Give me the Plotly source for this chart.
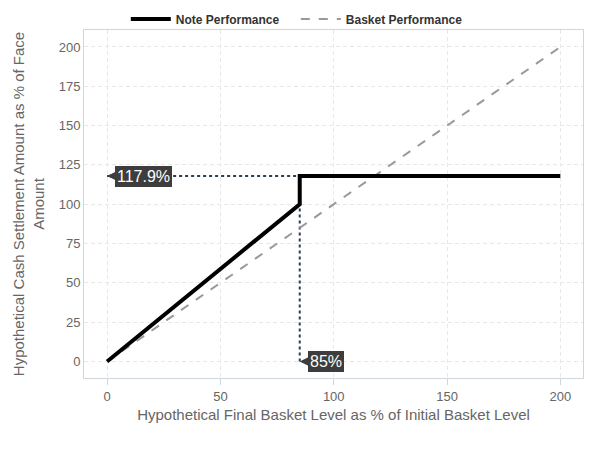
import plotly.graph_objects as go

note_x = [0, 85, 85, 200]
note_y = [0, 100, 117.9, 117.9]
basket_x = [0, 200]
basket_y = [0, 200]
cap_level = 117.9
barrier = 85
x_ticks = [0, 50, 100, 150, 200]
y_ticks = [0, 25, 50, 75, 100, 125, 150, 175, 200]

fig = go.Figure()
fig.add_trace(go.Scatter(x=[0, barrier], y=[cap_level, cap_level], mode="lines",
                         line=dict(color="#2c3e50", width=2, dash="dot"),
                         showlegend=False, hoverinfo="skip"))
fig.add_trace(go.Scatter(x=[barrier, barrier], y=[0, cap_level], mode="lines",
                         line=dict(color="#2c3e50", width=2, dash="dot"),
                         showlegend=False, hoverinfo="skip"))
fig.add_trace(go.Scatter(x=basket_x, y=basket_y, mode="lines", name="Basket Performance",
                         line=dict(color="#999999", width=2, dash="dash")))
fig.add_trace(go.Scatter(x=note_x, y=note_y, mode="lines", name="Note Performance",
                         line=dict(color="#000000", width=4)))

for xv, yv, txt in [(0, cap_level, "117.9%"), (barrier, 0, "85%")]:
    fig.add_annotation(x=xv, y=yv, text=txt, showarrow=True, ax=8, ay=0,
                       xanchor="left", arrowhead=2, arrowsize=0.7, arrowwidth=3,
                       arrowcolor="#3d3d3d",
                       bgcolor="#3d3d3d", bordercolor="#3d3d3d", borderpad=1,
                       font=dict(color="white", size=16, family="Liberation Sans, Arial"))

axis_common = dict(showgrid=True, gridcolor="#e8e8e8", griddash="4px,3px", gridwidth=1,
                   zeroline=False, showline=True, linecolor="#d0d6de", mirror=True,
                   automargin=False,
                   tickfont=dict(size=13, color="#666666", family="Liberation Sans, Arial"))
fig.update_xaxes(range=[-10.2, 210], tickvals=x_ticks, ticks="outside", ticklen=6,
                 tickcolor="#d0d6de",
                 title=dict(text="Hypothetical Final Basket Level as % of Initial Basket Level",
                            font=dict(size=15, color="#666666"), standoff=6),
                 **axis_common)
fig.update_yaxes(range=[-10.5, 210.8], tickvals=y_ticks, ticks="",
                 title=dict(text="Hypothetical Cash Settlement Amount as % of Face<br>Amount",
                            font=dict(size=15, color="#666666"), standoff=10),
                 **axis_common)

fig.update_layout(
    width=600, height=450,
    margin=dict(l=84, r=17, t=30, b=72, autoexpand=False),
    plot_bgcolor="white", paper_bgcolor="white",
    font=dict(family="Liberation Sans, Arial", color="#333333"),
    legend=dict(orientation="h", x=0.493, xanchor="center", xref="container",
                y=0.958, yanchor="middle", yref="container", bgcolor="rgba(0,0,0,0)",
                traceorder="reversed", font=dict(size=12, color="#333333", weight="bold"),
                itemwidth=40, entrywidth=115),
)
fig.write_html("out.html", config={"displayModeBar": False},
               post_script="document.body.style.margin='0';")
